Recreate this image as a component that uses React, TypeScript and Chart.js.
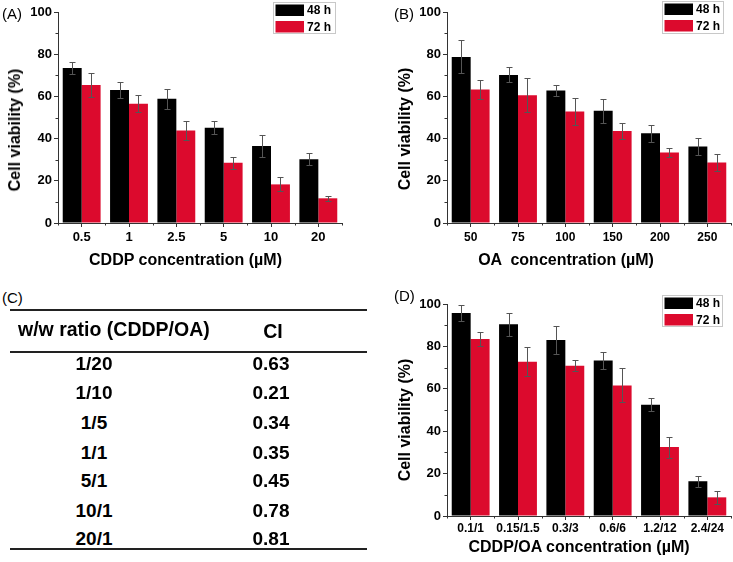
import React, { useEffect, useRef } from "react";
import { Chart, registerables } from "chart.js";

Chart.register(...registerables);

// ---------- data ----------
const seriesLabels = ["48 h", "72 h"];
const seriesColors = ["#000000", "#dc0a2d"];
const yTicks = [0, 20, 40, 60, 80, 100];

const catA = ["0.5", "1", "2.5", "5", "10", "20"];
const a48 = [73.5, 63.0, 58.9, 45.2, 36.5, 30.2];
const a48Err = [2.9, 3.6, 4.7, 3.0, 5.2, 2.9];
const a72 = [65.4, 56.5, 43.8, 28.5, 18.3, 11.7];
const a72Err = [5.5, 4.0, 4.5, 2.7, 3.3, 1.2];

const catB = ["50", "75", "100", "150", "200", "250"];
const b48 = [78.7, 70.2, 62.8, 53.2, 42.5, 36.2];
const b48Err = [7.8, 3.5, 2.6, 5.8, 3.9, 3.9];
const b72 = [63.3, 60.6, 52.8, 43.6, 33.4, 28.7];
const b72Err = [4.4, 7.9, 6.5, 3.6, 2.0, 4.1];

const catD = ["0.1/1", "0.15/1.5", "0.3/3", "0.6/6", "1.2/12", "2.4/24"];
const d48 = [95.8, 90.4, 83.0, 73.3, 52.5, 16.4];
const d48Err = [3.8, 5.3, 6.6, 3.9, 3.0, 2.7];
const d72 = [83.5, 72.8, 70.9, 61.6, 32.5, 8.8];
const d72Err = [3.5, 6.9, 2.7, 8.0, 5.0, 3.1];

const ratioHeader = "w/w ratio (CDDP/OA)";
const ciHeader = "CI";
const ratios = ["1/20", "1/10", "1/5", "1/1", "5/1", "10/1", "20/1"];
const ciValues = ["0.63", "0.21", "0.34", "0.35", "0.45", "0.78", "0.81"];

// ---------- styling ----------
const FONT = '"Liberation Sans", Arial, Helvetica, sans-serif';
const AXIS = "#333333";

const errorBarPlugin = {
  id: "errorBars",
  afterDatasetsDraw(chart: any) {
    const ctx = chart.ctx;
    const y = chart.scales.y;
    chart.data.datasets.forEach((ds: any, i: number) => {
      const meta = chart.getDatasetMeta(i);
      const errs = ds.errors || [];
      meta.data.forEach((bar: any, j: number) => {
        const v = ds.data[j];
        const e = errs[j];
        if (e == null) return;
        const x = Math.round(bar.x) + 0.5;
        const top = Math.round(y.getPixelForValue(v + e)) + 0.5;
        const bot = Math.round(y.getPixelForValue(v - e)) + 0.5;
        ctx.save();
        ctx.strokeStyle = "#555555";
        ctx.lineWidth = 1;
        ctx.beginPath();
        ctx.moveTo(x, top);
        ctx.lineTo(x, bot);
        ctx.moveTo(x - 3, top);
        ctx.lineTo(x + 3, top);
        ctx.moveTo(x - 3, bot);
        ctx.lineTo(x + 3, bot);
        ctx.stroke();
        ctx.restore();
      });
    });
  },
};

const boxLegendPlugin = {
  id: "boxLegend",
  afterDraw(chart: any, _args: any, opts: any) {
    if (!opts || opts.x == null) return;
    const ctx = chart.ctx;
    const { x, y, w, h } = opts;
    ctx.save();
    ctx.fillStyle = "#ffffff";
    ctx.fillRect(x, y, w, h);
    ctx.strokeStyle = "#c8c8c8";
    ctx.lineWidth = 1;
    ctx.strokeRect(x + 0.5, y + 0.5, w, h);
    chart.data.datasets.forEach((ds: any, i: number) => {
      const sy = y + 2.5 + i * 16.5;
      ctx.fillStyle = ds.backgroundColor;
      ctx.fillRect(x + 2.5, sy, 28.5, 11.5);
      ctx.fillStyle = "#000";
      ctx.font = `bold 12px ${FONT}`;
      ctx.textAlign = "left";
      ctx.textBaseline = "middle";
      ctx.fillText(ds.label, x + 34, sy + 6.5);
    });
    ctx.restore();
  },
};

const minorTickPlugin = {
  id: "minorTicks",
  afterDraw(chart: any) {
    const ctx = chart.ctx;
    const xs = chart.scales.x;
    const ys = chart.scales.y;
    const area = chart.chartArea;
    ctx.save();
    ctx.strokeStyle = AXIS;
    ctx.lineWidth = 1;
    ctx.beginPath();
    const n = chart.data.labels.length;
    for (let i = 0; i <= n; i++) {
      const px = Math.round(xs.getPixelForValue(i - 0.5)) + 0.5;
      ctx.moveTo(px, area.bottom);
      ctx.lineTo(px, area.bottom + 2.5);
    }
    for (let k = 0; k < yTicks.length - 1; k++) {
      const v = (yTicks[k] + yTicks[k + 1]) / 2;
      const py = Math.round(ys.getPixelForValue(v)) + 0.5;
      ctx.moveTo(area.left, py);
      ctx.lineTo(area.left - 2.5, py);
    }
    ctx.stroke();
    ctx.restore();
  },
};

type Layout = {
  w: number;
  h: number;
  yW: number;
  xH: number;
  top: number;
  right: number;
  xPad: number;
  xFont: number;
  yFont: number;
  legend: { x: number; y: number; w: number; h: number };
};

function makeConfig(
  cats: string[],
  s48: number[],
  e48: number[],
  s72: number[],
  e72: number[],
  L: Layout
): any {
  return {
    type: "bar",
    data: {
      labels: cats,
      datasets: [
        { label: seriesLabels[0], data: s48, errors: e48, backgroundColor: seriesColors[0], borderWidth: 0 },
        { label: seriesLabels[1], data: s72, errors: e72, backgroundColor: seriesColors[1], borderWidth: 0 },
      ],
    },
    options: {
      responsive: false,
      animation: false,
      devicePixelRatio: 1,
      layout: { padding: { left: 0, top: L.top, right: L.right, bottom: 0 } },
      datasets: { bar: { categoryPercentage: 0.8, barPercentage: 1 } },
      plugins: {
        legend: { display: false },
        tooltip: { enabled: false },
        boxLegend: L.legend,
      },
      scales: {
        x: {
          grid: { display: true, drawOnChartArea: false, offset: false, tickLength: 4, color: AXIS },
          border: { display: true, color: AXIS, width: 1 },
          ticks: {
            color: "#000",
            font: { family: FONT, size: L.xFont, weight: "bold" },
            padding: L.xPad,
            maxRotation: 0,
            autoSkip: false,
          },
          afterFit: (s: any) => {
            s.height = L.xH;
          },
        },
        y: {
          min: 0,
          max: 100,
          afterBuildTicks: (s: any) => {
            s.ticks = yTicks.map((v) => ({ value: v }));
          },
          grid: { display: true, drawOnChartArea: false, tickLength: 4, color: AXIS },
          border: { display: true, color: AXIS, width: 1 },
          ticks: {
            color: "#000",
            font: { family: FONT, size: L.yFont, weight: "bold" },
            padding: 2,
          },
          afterFit: (s: any) => {
            s.width = L.yW;
          },
        },
      },
    },
    plugins: [errorBarPlugin, minorTickPlugin, boxLegendPlugin],
  };
}

function BarPanel(props: {
  left: number;
  top: number;
  cats: string[];
  s48: number[];
  e48: number[];
  s72: number[];
  e72: number[];
  layout: Layout;
}) {
  const ref = useRef<HTMLCanvasElement | null>(null);
  useEffect(() => {
    if (!ref.current) return;
    const chart = new Chart(
      ref.current,
      makeConfig(props.cats, props.s48, props.e48, props.s72, props.e72, props.layout)
    );
    return () => chart.destroy();
  }, []);
  return (
    <canvas
      ref={ref}
      width={props.layout.w}
      height={props.layout.h}
      style={{
        position: "absolute",
        left: props.left,
        top: props.top,
        width: props.layout.w,
        height: props.layout.h,
      }}
    />
  );
}

function Label(props: {
  x: number;
  y: number;
  text: string;
  size: number;
  bold?: boolean;
  rotate?: boolean;
  align?: "center" | "left";
}) {
  const tx = props.align === "left" ? "0" : "-50%";
  return (
    <div
      style={{
        position: "absolute",
        left: props.x,
        top: props.y,
        transform: `translate(${tx}, -50%)${props.rotate ? " rotate(-90deg)" : ""}`,
        transformOrigin: props.rotate ? "50% 50%" : undefined,
        whiteSpace: "pre",
        fontFamily: FONT,
        fontSize: props.size,
        fontWeight: props.bold ? "bold" : "normal",
        color: "#000",
        lineHeight: 1,
      }}
    >
      {props.text}
    </div>
  );
}

function Rule(props: { x: number; y: number; w: number }) {
  return (
    <div
      style={{
        position: "absolute",
        left: props.x,
        top: props.y,
        width: props.w,
        height: 2,
        background: "#222",
      }}
    />
  );
}

export default function App() {
  const layoutA: Layout = {
    w: 365, h: 280, yW: 58, xH: 57, top: 12, right: 23, xPad: 3, xFont: 13, yFont: 13,
    legend: { x: 273, y: 2, w: 62, h: 31 },
  };
  const layoutB: Layout = {
    w: 368, h: 280, yW: 82, xH: 57, top: 12, right: 2, xPad: 3, xFont: 12, yFont: 13,
    legend: { x: 297, y: 1, w: 61, h: 32 },
  };
  const layoutD: Layout = {
    w: 368, h: 282, yW: 82, xH: 46, top: 24, right: 2, xPad: 1, xFont: 12, yFont: 13,
    legend: { x: 297, y: 15, w: 60, h: 31 },
  };
  const rowY = [363, 392, 422, 452, 480, 510, 538];
  return (
    <div
      style={{
        position: "absolute",
        left: 0,
        top: 0,
        width: 733,
        height: 562,
        background: "#fff",
        overflow: "hidden",
      }}
    >
      <BarPanel left={0} top={0} cats={catA} s48={a48} e48={a48Err} s72={a72} e72={a72Err} layout={layoutA} />
      <BarPanel left={365} top={0} cats={catB} s48={b48} e48={b48Err} s72={b72} e72={b72Err} layout={layoutB} />
      <BarPanel left={365} top={280} cats={catD} s48={d48} e48={d48Err} s72={d72} e72={d72Err} layout={layoutD} />

      <Label x={2} y={13} text="(A)" size={15} align="left" />
      <Label x={394} y={13} text="(B)" size={15} align="left" />
      <Label x={2} y={297} text="(C)" size={15} align="left" />
      <Label x={394} y={295} text="(D)" size={15} align="left" />

      <Label x={14.5} y={130} text="Cell viability (%)" size={16} bold rotate />
      <Label x={185.5} y={260} text="CDDP concentration (µM)" size={16} bold />
      <Label x={405} y={128.5} text="Cell viability (%)" size={16} bold rotate />
      <Label x={566} y={260} text="OA  concentration (µM)" size={16} bold />
      <Label x={405} y={420} text="Cell viability (%)" size={16} bold rotate />
      <Label x={579} y={547} text="CDDP/OA concentration (µM)" size={16} bold />

      <Rule x={10} y={309} w={357} />
      <Label x={18} y={330} text={ratioHeader} size={19.5} bold align="left" />
      <Label x={273} y={332} text={ciHeader} size={19.5} bold />
      <Rule x={10} y={351} w={357} />
      {ratios.map((r, i) => (
        <Label key={"r" + i} x={94} y={rowY[i]} text={r} size={19} bold />
      ))}
      {ciValues.map((c, i) => (
        <Label key={"c" + i} x={271} y={rowY[i]} text={c} size={19} bold />
      ))}
      <Rule x={10} y={548} w={357} />
    </div>
  );
}
